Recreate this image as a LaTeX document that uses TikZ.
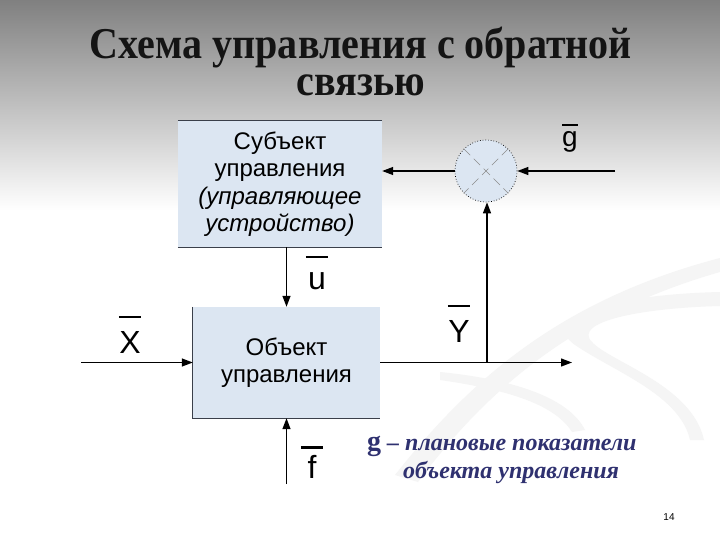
\documentclass[tikz,border=0pt]{standalone}
\usepackage{fontspec}
\setmainfont{Liberation Serif}
\newfontfamily\arialfont{Liberation Sans}
\usepackage{tikz}
\usetikzlibrary{arrows.meta,positioning,calc}
\definecolor{fb-box}{HTML}{DCE6F2}
\definecolor{fb-edge}{HTML}{3A3F4A}
\definecolor{fb-navy}{HTML}{2F3170}
\definecolor{fb-top}{HTML}{808080}
% letter with a bar over it: raise, bar width, letter
\newcommand{\barred}[3]{\ooalign{\hfil\raisebox{#1}{\rule{#2}{0.065em}}\hfil\cr\hfil#3\hfil\cr}}

\begin{document}
\begin{tikzpicture}[x=1pt,y=-1pt,
    blockbox/.style={fill=fb-box,align=center,inner sep=0pt,font=\arialfont\fontsize{24}{27.5}\selectfont},
    siglabel/.style={anchor=base,inner sep=0pt,font=\arialfont\fontsize{32}{32}\selectfont},
    arr/.style={line width=1.3pt,-{Triangle[length=11pt,width=8pt]}},
    swoosh/.style={fill=black!4}]
      \useasboundingbox (0,0) rectangle (720,540);
      % background
      \fill[white] (0,0) rectangle (720,540);
      \shade[top color=fb-top,bottom color=white] (0,0) rectangle (720,210);
      \fill[swoosh] (395,475) .. controls (470,380) and (560,300) .. (720,258) -- (720,272) .. controls (580,312) and (490,385) .. (418,482) -- cycle;
      \fill[swoosh] (720,292) .. controls (600,295) and (540,320) .. (575,345) .. controls (615,372) and (680,395) .. (690,440) -- (704,440) .. controls (692,385) and (610,362) .. (592,342) .. controls (572,322) and (640,308) .. (720,306) -- cycle;
      \fill[swoosh] (440,372) .. controls (520,380) and (570,400) .. (585,430) -- (572,432) .. controls (555,405) and (510,390) .. (440,380) -- cycle;
      % title
      \node[anchor=base,xscale=0.91,align=center,inner sep=0pt,text=black!92,
        font=\bfseries\fontsize{44}{37}\selectfont] (title) at (361,96)
        {Схема управления с обратной\\связью};
      % blocks
      \node[blockbox,minimum width=204pt,minimum height=126pt] (subj) at (280,184)
        {Субъект\\управления\\\textit{(управляющее}\\\textit{устройство)}};
      \node[blockbox,minimum width=187pt,minimum height=111pt] (obj) at (286.5,362.5)
        {Объект\\управления};
      \draw[fb-edge,line width=1pt] (subj.north west) -- (subj.north east);
      \draw[fb-edge,line width=1pt] (subj.south west) -- (subj.south east);
      \draw[fb-edge,line width=1pt] (obj.north west) -- (obj.south west) -- (obj.south east);
      % comparator
      \node[circle,fill=fb-box,draw=black,dotted,line width=0.7pt,minimum size=62pt,inner sep=0pt] (cmp) at (486,171) {};
      \draw[black!45,line width=0.6pt,dash pattern=on 9pt off 5pt] (cmp.north west) -- (cmp.south east);
      \draw[black!45,line width=0.6pt,dash pattern=on 9pt off 5pt] (cmp.north east) -- (cmp.south west);
      % free ends
      \coordinate (xin) at (81,362.5);
      \coordinate (yout) at (572,362.5);
      \coordinate (ybr) at (487,362.5);
      \coordinate (fin) at (286.5,484);
      \coordinate (gin) at (615,171);
      % connectors
      \draw[arr] (xin) -- (obj.west);
      \draw[arr] (obj.east) -- (yout);
      \draw[arr] (ybr) -- (ybr |- cmp.south);
      \draw[arr] (gin) -- (cmp.east);
      \draw[arr] (cmp.west) -- (cmp.west -| subj.east);
      \draw[arr] (subj.south -| obj.north) -- (obj.north);
      \draw[arr] (fin) -- (obj.south);
      % signal labels
      \node[siglabel] (lblx) at (130,353) {\barred{1.08em}{0.7em}{X}};
      \node[siglabel] (lblu) at (317,289) {\barred{0.97em}{0.7em}{u}};
      \node[siglabel] (lbly) at (459,342) {\barred{1.08em}{0.7em}{Y}};
      \node[siglabel] (lblf) at (312,478) {\barred{0.92em}{0.7em}{f}};
      \node[siglabel,font=\arialfont\fontsize{28}{28}\selectfont] (lblg) at (570,147) {\barred{0.74em}{0.55em}{g}};
      % legend
      \node[anchor=base west,text=fb-navy,inner sep=0pt] (leg1) at (367,450)
        {{\bfseries\fontsize{28}{28}\selectfont g}\hspace{6pt}{\bfseries\itshape\fontsize{24}{28}\selectfont – плановые показатели}};
      \node[anchor=base west,text=fb-navy,inner sep=0pt,font=\bfseries\itshape\fontsize{24}{28}\selectfont] (leg2) at (403,478)
        {объекта управления};
      \node[font=\arialfont\fontsize{10}{12}\selectfont,inner sep=0pt] (pgno) at (669,517) {14};
    \end{tikzpicture}
\end{document}
